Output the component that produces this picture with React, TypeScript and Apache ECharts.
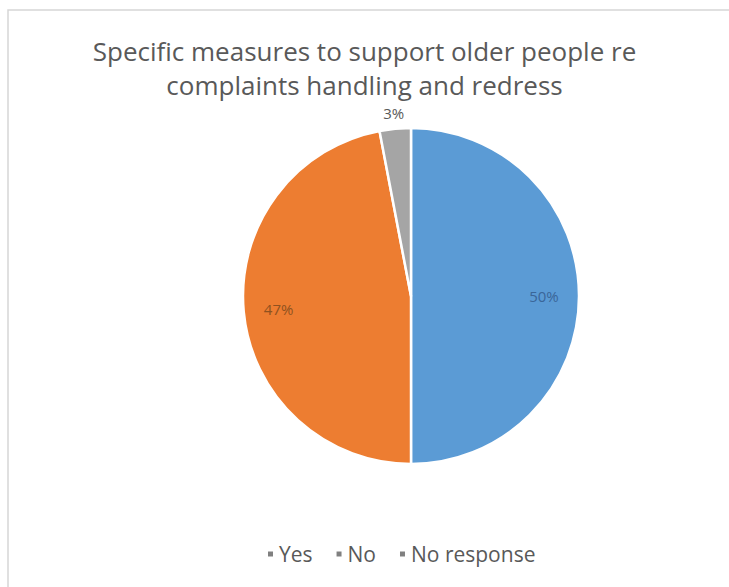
import React, { useEffect, useRef } from "react";
import * as echarts from "echarts";

const categories = ["Yes", "No", "No response"];
const values = [50, 47, 3];
const sliceColors = ["#5B9BD5", "#ED7D31", "#A5A5A5"];
const labelColors = ["#3a6699", "#8f5220", "#595959"];
const titleLines = ["Specific measures to support older people re", "complaints handling and redress"];

export default function App() {
  const ref = useRef<HTMLDivElement>(null);
  useEffect(() => {
    document.body.style.margin = "0";
    const chart = echarts.init(ref.current!, null, { renderer: "svg" });
    const center = [411, 296];
    const mainData = categories.map((name, i) => ({
      name,
      value: values[i],
      itemStyle: { color: sliceColors[i] },
    }));
    const innerLabelData = categories.map((name, i) => ({
      name,
      value: values[i],
      label: { show: values[i] > 10, color: labelColors[i] },
    }));
    const outerLabelData = categories.map((name, i) => ({
      name,
      value: values[i],
      label: { show: values[i] <= 10, color: labelColors[i] },
    }));
    chart.setOption({
      animation: false,
      backgroundColor: "#ffffff",
      title: {
        text: titleLines.join("\n"),
        left: "center",
        top: 29,
        textStyle: {
          fontFamily: "Open Sans",
          fontSize: 26,
          fontWeight: "normal",
          color: "#595959",
          lineHeight: 34,
        },
      },
      legend: {
        data: categories.map((name) => ({ name, itemStyle: { color: "#808080" } })),
        left: 261,
        top: 536,
        icon: "rect",
        itemWidth: 7,
        itemHeight: 7,
        itemGap: 22,
        textStyle: {
          fontFamily: "Open Sans",
          fontSize: 21,
          color: "#595959",
          lineHeight: 26,
        },
      },
      graphic: [
        {
          type: "rect",
          silent: true,
          z: -10,
          shape: { x: 8, y: 10, width: 740, height: 600 },
          style: { fill: "none", stroke: "#d6d6d6", lineWidth: 1.5 },
        },
      ],
      series: [
        {
          type: "pie",
          center,
          radius: [0, 168],
          startAngle: 90,
          clockwise: true,
          data: mainData,
          label: { show: false },
          labelLine: { show: false },
          itemStyle: { borderColor: "#ffffff", borderWidth: 2.5 },
          emphasis: { disabled: true },
        },
        {
          type: "pie",
          center,
          radius: [92, 168],
          startAngle: 90,
          clockwise: true,
          silent: true,
          data: innerLabelData,
          itemStyle: { color: "rgba(0,0,0,0)" },
          label: {
            position: "inside",
            formatter: "{c}%",
            fontFamily: "Open Sans",
            fontSize: 15,
          },
          labelLine: { show: false },
          emphasis: { disabled: true },
        },
        {
          type: "pie",
          center,
          radius: [176, 186],
          startAngle: 90,
          clockwise: true,
          silent: true,
          data: outerLabelData,
          itemStyle: { color: "rgba(0,0,0,0)" },
          label: {
            position: "inside",
            formatter: "{c}%",
            fontFamily: "Open Sans",
            fontSize: 15,
          },
          labelLine: { show: false },
          emphasis: { disabled: true },
        },
      ],
    });
    return () => chart.dispose();
  }, []);
  return (
    <div
      ref={ref}
      style={{ position: "absolute", left: 0, top: 0, width: 729, height: 587 }}
    />
  );
}
